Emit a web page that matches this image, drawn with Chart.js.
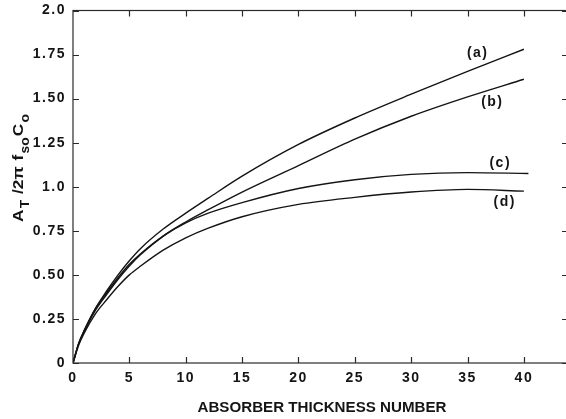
<!DOCTYPE html>
<html>
<head>
<meta charset="utf-8">
<title>Absorber thickness number</title>
<script src="https://cdn.jsdelivr.net/npm/chart.js@4.4.1/dist/chart.umd.min.js"></script>
<style>
    html, body { margin: 0; padding: 0; background: #fff; overflow: hidden; }
    #absorber-chart { display: block; }
</style>
</head>
<body>
<canvas id="absorber-chart" width="572" height="419"></canvas>
<script>
'use strict';

// Absorber thickness number (x) for curves a, b, d
const thickness = [0, 0.5, 1, 2, 3, 4, 5, 6, 8, 10, 12, 15, 20, 25, 30, 35, 40];
// Curve (c) runs a little past 40
const thicknessC = [0, 0.5, 1, 2, 3, 4, 5, 6, 8, 10, 12, 15, 20, 25, 30, 35, 40.4];

// A_T / 2π f_so C_o
const curveA = [0, 0.11, 0.185, 0.31, 0.41, 0.50, 0.58, 0.65, 0.76, 0.85, 0.935, 1.06, 1.24, 1.39, 1.525, 1.655, 1.78];
const curveB = [0, 0.11, 0.18, 0.30, 0.39, 0.475, 0.55, 0.615, 0.72, 0.80, 0.87, 0.97, 1.12, 1.27, 1.40, 1.51, 1.61];
const curveC = [0, 0.11, 0.185, 0.31, 0.40, 0.485, 0.56, 0.62, 0.72, 0.795, 0.85, 0.91, 0.99, 1.04, 1.07, 1.08, 1.075];
const curveD = [0, 0.10, 0.17, 0.28, 0.36, 0.435, 0.50, 0.55, 0.64, 0.71, 0.765, 0.83, 0.90, 0.94, 0.97, 0.985, 0.975];

const curveNames = ['(a)', '(b)', '(c)', '(d)'];
const curveLabelX = [35.9, 37.2, 37.9, 38.3];
const curveLabelY = [1.756, 1.479, 1.133, 0.912];

const xTicks = [0, 5, 10, 15, 20, 25, 30, 35, 40];
const yTicks = [0, 0.25, 0.5, 0.75, 1.0, 1.25, 1.5, 1.75, 2.0];
const yTickLabels = ['0', '0.25', '0.50', '0.75', '1.0', '1.25', '1.50', '1.75', '2.0'];

const xTitle = 'ABSORBER THICKNESS NUMBER';

const INK = '#141414';
const FONT = '"Liberation Sans", Arial, Helvetica, sans-serif';

/**
 * Absorber chart handler
 */
const AbsorberChart = {

    chart: null,

    /**
     * Initialize
     */
    init: function() {
        const ctx = document.getElementById('absorber-chart');
        if (!ctx) return;

        this.chart = new Chart(ctx, {
            type: 'line',
            data: { datasets: this.buildDatasets() },
            options: this.buildOptions(),
            plugins: [this.framePlugin()]
        });
    },

    /**
     * Turn the x / y arrays into point datasets
     */
    buildDatasets: function() {
        const series = [
            [thickness, curveA],
            [thickness, curveB],
            [thicknessC, curveC],
            [thickness, curveD]
        ];

        return series.map((pair, i) => ({
            label: curveNames[i],
            data: pair[1].map((v, k) => ({ x: pair[0][k], y: v })),
            borderColor: INK,
            borderWidth: 1.4,
            pointRadius: 0,
            fill: false,
            cubicInterpolationMode: 'monotone'
        }));
    },

    /**
     * Scales: fixed sizes so the plot frame sits where it should
     */
    buildOptions: function() {
        return {
            responsive: false,
            animation: false,
            layout: { padding: { top: 10, right: 3, left: 0, bottom: 0 } },
            plugins: {
                legend: { display: false },
                tooltip: { enabled: false }
            },
            scales: {
                x: {
                    type: 'linear',
                    min: 0,
                    max: 44,
                    afterBuildTicks: (scale) => {
                        scale.ticks = xTicks.map(v => ({ value: v }));
                    },
                    afterFit: (scale) => { scale.height = 56; },
                    ticks: {
                        maxRotation: 0,
                        padding: 7,
                        color: INK,
                        font: { family: FONT, size: 14, weight: 'bold' }
                    },
                    grid: { display: false, drawTicks: false },
                    border: { display: false }
                },
                y: {
                    type: 'linear',
                    min: 0,
                    max: 2,
                    afterBuildTicks: (scale) => {
                        scale.ticks = yTicks.map(v => ({ value: v }));
                    },
                    afterFit: (scale) => { scale.width = 73; },
                    ticks: {
                        padding: 7,
                        color: INK,
                        // small line height keeps the top label from pushing the frame down
                        font: { family: FONT, size: 14, weight: 'bold', lineHeight: 0.5 },
                        callback: (value) => {
                            const i = yTicks.indexOf(value);
                            return i >= 0 ? yTickLabels[i] : '';
                        }
                    },
                    grid: { display: false, drawTicks: false },
                    border: { display: false }
                }
            }
        };
    },

    /**
     * Box frame with inward ticks, curve labels and axis titles
     */
    framePlugin: function() {
        return {
            id: 'absorberFrame',
            beforeDraw: (chart) => {
                // the printed lettering is set a bit loose
                chart.ctx.letterSpacing = '1.5px';
            },
            afterDraw: (chart) => {
                const { ctx, chartArea: a, scales: { x, y } } = chart;
                ctx.save();

                // frame
                ctx.strokeStyle = '#2a2a2a';
                ctx.lineWidth = 1.2;
                ctx.strokeRect(a.left, a.top, a.right - a.left, a.bottom - a.top);

                // inward tick marks
                ctx.beginPath();
                xTicks.forEach(v => {
                    if (v === 0) return;
                    const px = Math.round(x.getPixelForValue(v)) + 0.5;
                    ctx.moveTo(px, a.bottom);
                    ctx.lineTo(px, a.bottom - 6);
                    ctx.moveTo(px, a.top);
                    ctx.lineTo(px, a.top + 6);
                });
                yTicks.forEach(v => {
                    const py = Math.round(y.getPixelForValue(v)) + 0.5;
                    ctx.moveTo(a.left, py);
                    ctx.lineTo(a.left + 6, py);
                    ctx.moveTo(a.right, py);
                    ctx.lineTo(a.right - 7, py);
                });
                ctx.stroke();

                // curve labels
                ctx.fillStyle = INK;
                ctx.font = 'bold 14px ' + FONT;
                ctx.textAlign = 'center';
                ctx.textBaseline = 'middle';
                curveNames.forEach((name, i) => {
                    ctx.fillText(name, x.getPixelForValue(curveLabelX[i]), y.getPixelForValue(curveLabelY[i]));
                });

                // x title, stretched to the printed width
                this.drawStretched(ctx, xTitle, 'bold 14px ' + FONT, (a.left + a.right) / 2 + 1, 408, 249);

                // y title: A_T / 2π f_so C_o
                this.drawYTitle(ctx, 23, 167.5, 109);

                ctx.restore();
            }
        };
    },

    /**
     * Centered text scaled horizontally to a given width
     */
    drawStretched: function(ctx, text, font, cx, cy, width) {
        ctx.save();
        ctx.letterSpacing = '0px';
        ctx.font = font;
        const w = ctx.measureText(text).width;
        ctx.translate(cx, cy);
        ctx.scale(width / w, 1);
        ctx.textAlign = 'center';
        ctx.textBaseline = 'middle';
        ctx.fillText(text, 0, 0);
        ctx.restore();
    },

    /**
     * Rotated y-axis title with subscripts
     */
    drawYTitle: function(ctx, baseX, centerY, length) {
        const parts = [
            { t: 'A', sub: false },
            { t: 'T', sub: true },
            { t: ' /2\u03C0 ', sub: false },
            { t: 'f', sub: false },
            { t: 'so', sub: true },
            { t: 'C', sub: false },
            { t: 'o', sub: true }
        ];
        const mainFont = 'bold 15px ' + FONT;
        const subFont = 'bold 12px ' + FONT;

        ctx.save();
        ctx.letterSpacing = '0px';

        let total = 0;
        parts.forEach(p => {
            ctx.font = p.sub ? subFont : mainFont;
            p.w = ctx.measureText(p.t).width + 1;
            total += p.w;
        });

        ctx.translate(baseX, centerY);
        ctx.rotate(-Math.PI / 2);
        ctx.scale(length / total, 1);
        ctx.textAlign = 'left';
        ctx.textBaseline = 'alphabetic';
        ctx.fillStyle = INK;

        let cx = -total / 2;
        parts.forEach(p => {
            ctx.font = p.sub ? subFont : mainFont;
            ctx.fillText(p.t, cx, p.sub ? 6 : 0);
            cx += p.w;
        });
        ctx.restore();
    }
};

AbsorberChart.init();
</script>
</body>
</html>
